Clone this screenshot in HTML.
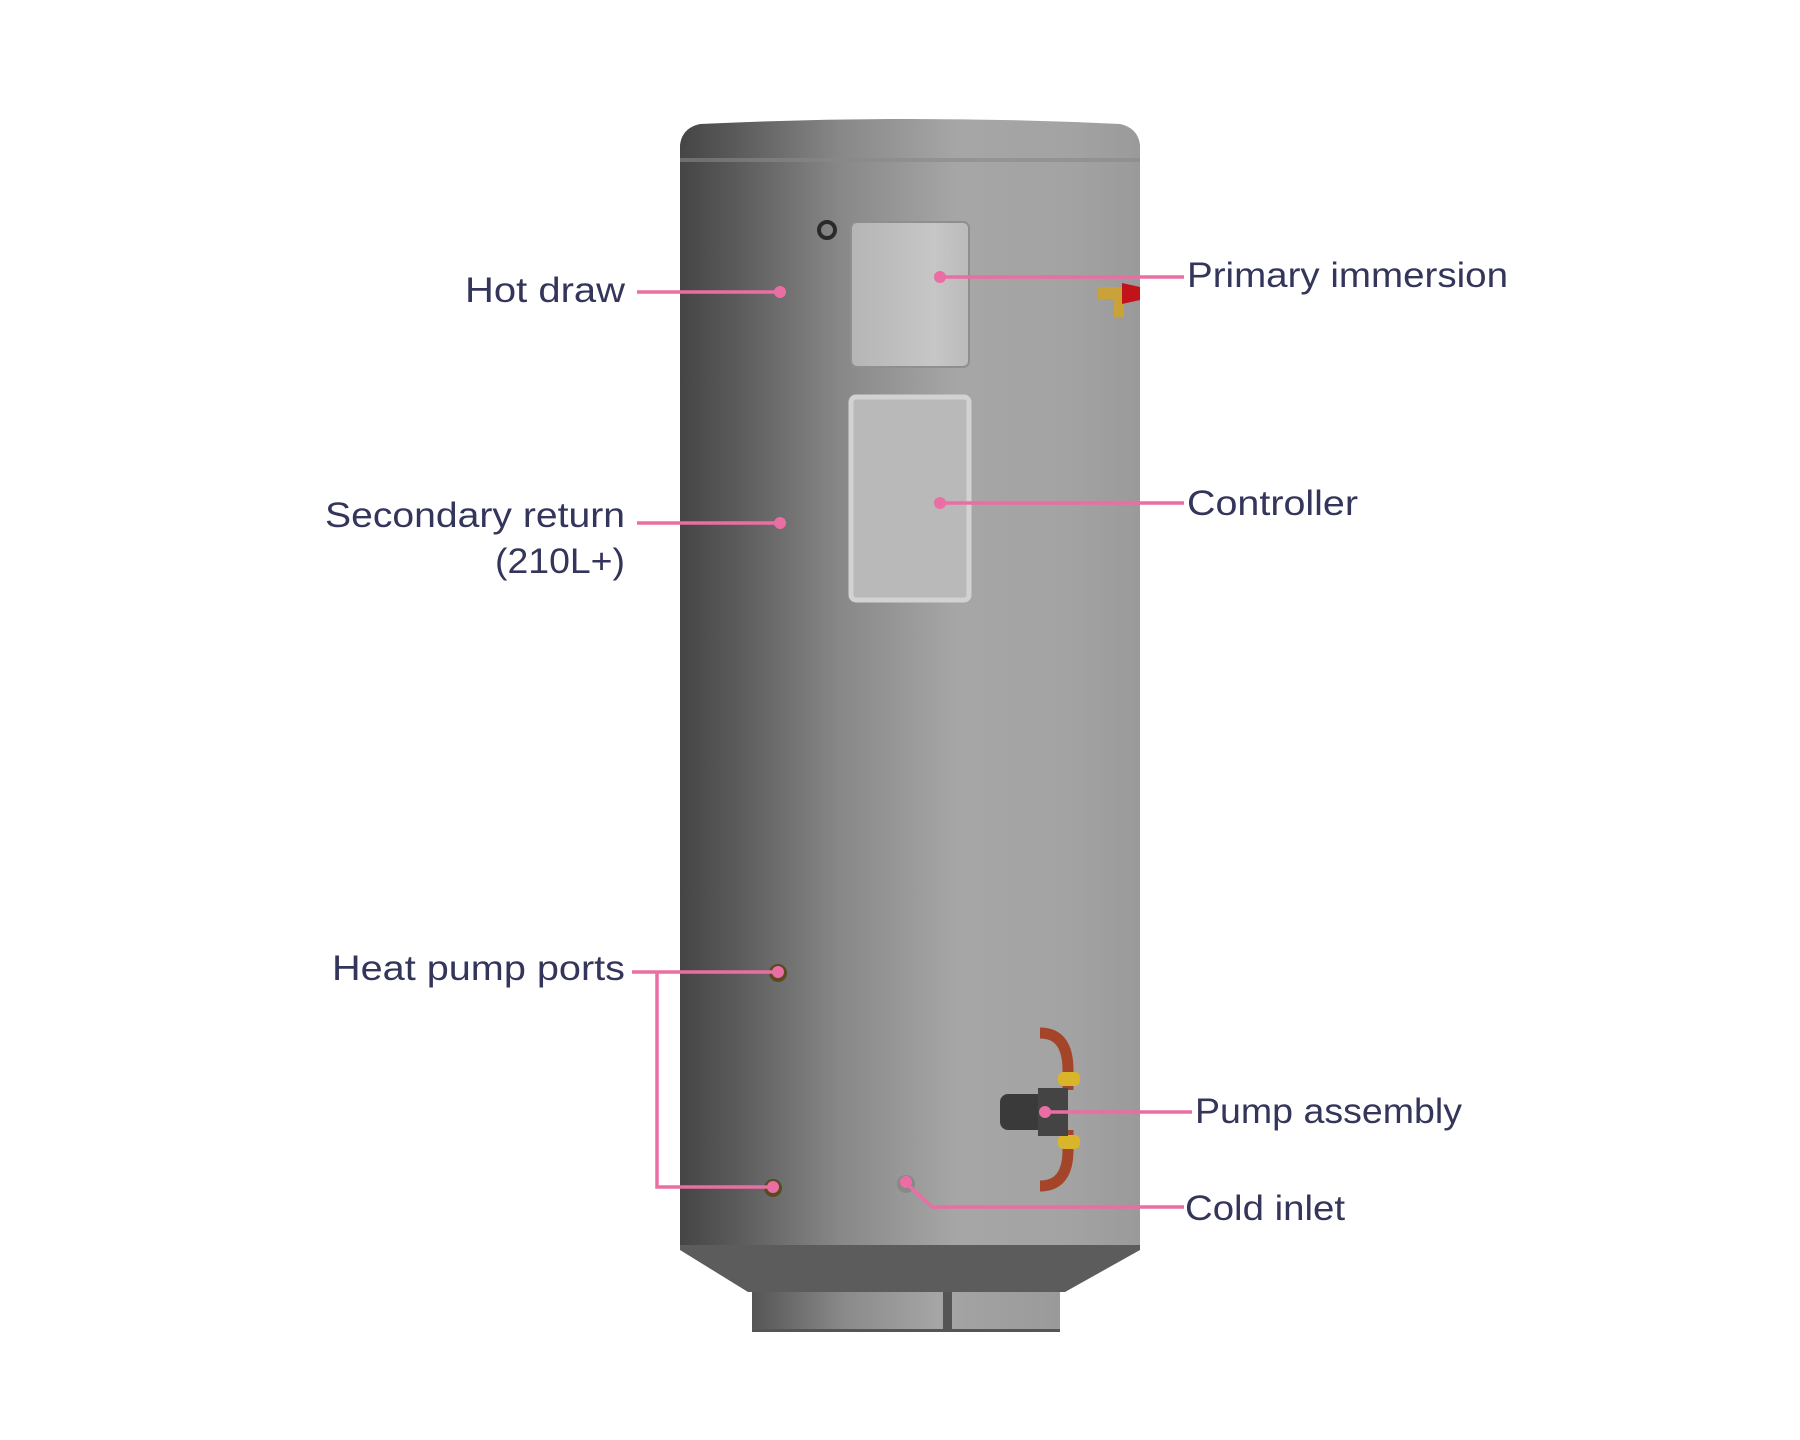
<!DOCTYPE html>
<html><head><meta charset="utf-8"><style>html,body{margin:0;padding:0;background:#fff}svg{display:block}</style></head>
<body>
<svg width="1800" height="1440" viewBox="0 0 1800 1440" xmlns="http://www.w3.org/2000/svg">
<defs>
<linearGradient id="body" x1="0" x2="1" y1="0" y2="0">
<stop offset="0" stop-color="#454545"/><stop offset="0.12" stop-color="#5a5a5a"/><stop offset="0.35" stop-color="#888"/><stop offset="0.6" stop-color="#a6a6a6"/><stop offset="0.85" stop-color="#a3a3a3"/><stop offset="1" stop-color="#9a9a9a"/>
</linearGradient>
<linearGradient id="base" x1="0" x2="1"><stop offset="0" stop-color="#555"/><stop offset="0.3" stop-color="#8a8a8a"/><stop offset="0.6" stop-color="#a5a5a5"/><stop offset="1" stop-color="#9a9a9a"/></linearGradient>
<linearGradient id="panel" x1="0" x2="1"><stop offset="0" stop-color="#b5b5b5"/><stop offset="0.7" stop-color="#c6c6c6"/><stop offset="1" stop-color="#bbb"/></linearGradient>
</defs>
<!-- base -->
<rect x="752" y="1285" width="308" height="47" fill="url(#base)"/>
<rect x="943" y="1290" width="9" height="42" fill="#555"/>
<rect x="752" y="1329" width="308" height="3" fill="#555"/>
<!-- taper -->
<polygon points="680,1243 1140,1243 1140,1250 1065,1292 748,1292 680,1250" fill="#5c5c5c"/>
<!-- body -->
<path d="M680,145 Q682,128 700,124 Q910,114 1120,124 Q1138,128 1140,145 L1140,1245 L680,1245 Z" fill="url(#body)"/>
<rect x="680" y="158" width="460" height="4" fill="#888" opacity="0.6"/>
<!-- panels -->
<rect x="851" y="222" width="118" height="145" rx="6" fill="url(#panel)" stroke="#8f8f8f" stroke-width="2"/>
<rect x="851" y="397" width="118" height="203" rx="5" fill="#b9b9b9" stroke="#d2d2d2" stroke-width="5"/>
<circle cx="827" cy="230" r="8" fill="none" stroke="#2a2a2a" stroke-width="4"/>
<!-- valve -->
<rect x="1098" y="287" width="26" height="12" fill="#c9a23a"/>
<rect x="1114" y="295" width="10" height="22" fill="#c9a23a"/>
<path d="M1122,283 L1140,287 L1140,300 L1122,304 Z" fill="#c2121a"/>
<!-- pump -->
<path d="M1040,1033 Q1068,1033 1068,1070 L1068,1090" fill="none" stroke="#a4452a" stroke-width="11"/>
<path d="M1040,1186 Q1068,1186 1068,1150 L1068,1130" fill="none" stroke="#a4452a" stroke-width="11"/>
<rect x="1058" y="1072" width="22" height="14" rx="5" fill="#d8b52a"/>
<rect x="1058" y="1135" width="22" height="14" rx="5" fill="#d8b52a"/>
<rect x="1000" y="1094" width="60" height="36" rx="8" fill="#3a3a3a"/>
<rect x="1038" y="1088" width="30" height="48" fill="#444"/>
<!-- ports -->
<circle cx="780" cy="292" r="6" fill="#666"/>
<circle cx="779" cy="523" r="6" fill="#666"/>
<circle cx="778" cy="973" r="9" fill="#5a4a20"/>
<circle cx="773" cy="1188" r="9" fill="#5a4a20"/>
<circle cx="906" cy="1184" r="9" fill="#888"/>
<!-- connectors -->
<g stroke="#ea6ea4" stroke-width="3.5" fill="none">
<path d="M637,292 H780"/>
<path d="M940,277 H1184"/>
<path d="M940,503 H1184"/>
<path d="M637,523 H780"/>
<path d="M632,972 H778 M657,972 V1187 H773"/>
<path d="M1045,1112 H1192"/>
<path d="M906,1183 L932,1207 H1184"/>
</g>
<g fill="#ea6ea4">
<circle cx="780" cy="292" r="6"/><circle cx="940" cy="277" r="6"/><circle cx="940" cy="503" r="6"/>
<circle cx="780" cy="523" r="6"/><circle cx="778" cy="972" r="6"/><circle cx="773" cy="1187" r="6"/>
<circle cx="1045" cy="1112" r="6"/><circle cx="906" cy="1182" r="6"/>
</g>
<g font-family="Liberation Sans, sans-serif" font-size="35" fill="#33355a">
<text x="625" y="302" text-anchor="end" textLength="160" lengthAdjust="spacingAndGlyphs">Hot draw</text>
<text x="625" y="527" text-anchor="end" textLength="300" lengthAdjust="spacingAndGlyphs">Secondary return</text>
<text x="625" y="573" text-anchor="end" textLength="130" lengthAdjust="spacingAndGlyphs">(210L+)</text>
<text x="625" y="980" text-anchor="end" textLength="293" lengthAdjust="spacingAndGlyphs">Heat pump ports</text>
<text x="1187" y="287" textLength="321" lengthAdjust="spacingAndGlyphs">Primary immersion</text>
<text x="1187" y="515" textLength="171" lengthAdjust="spacingAndGlyphs">Controller</text>
<text x="1195" y="1123" textLength="267" lengthAdjust="spacingAndGlyphs">Pump assembly</text>
<text x="1185" y="1220" textLength="160" lengthAdjust="spacingAndGlyphs">Cold inlet</text>
</g>
</svg>
</body></html>
